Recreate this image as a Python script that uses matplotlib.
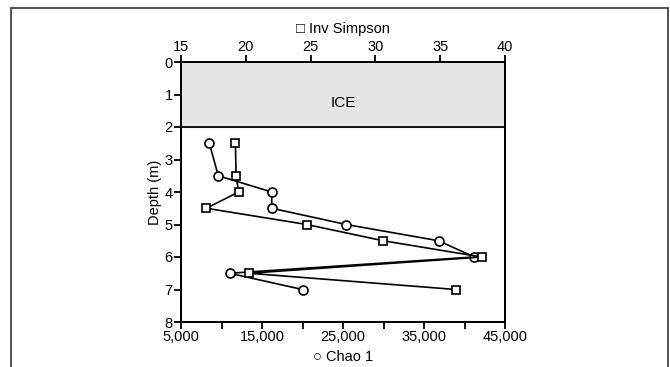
import matplotlib.pyplot as plt
from matplotlib.patches import Rectangle
from matplotlib.ticker import FuncFormatter

# Depth profile data
depth = [2.5, 3.5, 4.0, 4.5, 5.0, 5.5, 6.0, 6.5, 7.0]
chao1 = [8500, 9600, 16200, 16200, 25400, 36800, 41200, 11000, 20000]
inv_simpson = [19.2, 19.25, 19.45, 16.95, 24.7, 30.6, 38.2, 20.25, 36.2]

chao_ticks = [5000, 15000, 25000, 35000, 45000]
chao_minor = [10000, 20000, 30000, 40000]
simpson_ticks = [15, 20, 25, 30, 35, 40]
depth_ticks = [0, 1, 2, 3, 4, 5, 6, 7, 8]

plt.rcParams['font.family'] = ['Liberation Sans', 'DejaVu Sans']
plt.rcParams['font.size'] = 10.5

fig = plt.figure(figsize=(6.7, 3.67), dpi=100, facecolor='white')

# thin frame round the figure (open at the bottom edge)
fig.patches.append(Rectangle((11 / 670, -0.05), 657 / 670, 1 - 8 / 367 + 0.05,
                             transform=fig.transFigure, fill=False,
                             edgecolor='#444444', linewidth=1.3))

ax = fig.add_axes([181 / 670, 1 - 322 / 367, 324 / 670, 260 / 367])
ax2 = ax.twiny()

# ice layer
ax.axhspan(0, 2, color='#e5e5e5', zorder=0)
ax.axhline(2, color='black', linewidth=1.3, zorder=1)
ax.text(25000, 1.25, 'ICE', ha='center', va='center', fontsize=11)

ax.plot(chao1, depth, color='black', linewidth=1.2, marker='o', markersize=6.5,
        markerfacecolor='white', markeredgecolor='black', markeredgewidth=1.2, zorder=3)
ax2.plot(inv_simpson, depth, color='black', linewidth=1.2, marker='s', markersize=6,
         markerfacecolor='white', markeredgecolor='black', markeredgewidth=1.2, zorder=3)

ax.set_xlim(5000, 45000)
ax2.set_xlim(15, 40)
ax.set_ylim(8, 0)

ax.set_xticks(chao_ticks)
ax.set_xticks(chao_minor, minor=True)
ax.xaxis.set_major_formatter(FuncFormatter(lambda v, p: f'{int(v):,}'))
ax2.set_xticks(simpson_ticks)
ax.set_yticks(depth_ticks)

for a in (ax, ax2):
    for s in a.spines.values():
        s.set_linewidth(1.3)
        s.set_color('black')

ax.tick_params(axis='x', which='both', direction='out', length=5, width=1.3, pad=1, labelsize=10.5)
ax.tick_params(axis='y', direction='out', length=5, width=1.3, pad=1, labelsize=10.5)
ax2.tick_params(axis='x', direction='out', length=5, width=1.3, pad=1, labelsize=10.5)

ax.set_xlabel('\u25cb Chao 1', fontsize=10.5, labelpad=4)
ax2.set_xlabel('\u25a1 Inv Simpson', fontsize=10.5, labelpad=5)
ax.set_ylabel('Depth (m)', fontsize=10.5, labelpad=2)

plt.savefig('out.png', dpi=100, facecolor='white')
plt.close()
